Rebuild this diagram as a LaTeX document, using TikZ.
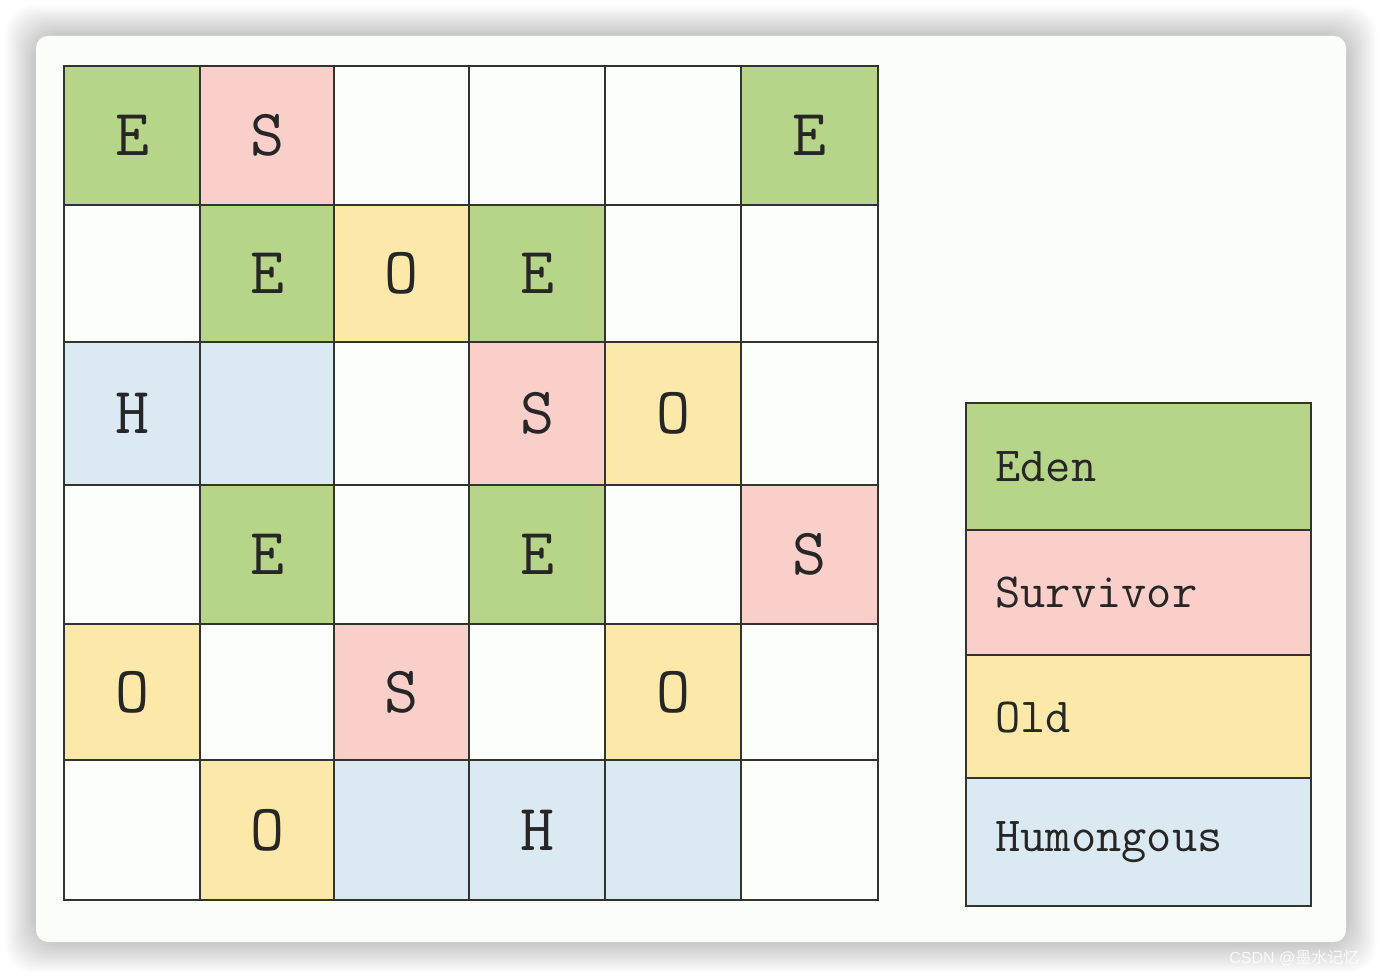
\documentclass[tikz,border=0pt]{standalone}
\usepackage{fontspec}
\newfontfamily\cjk{Noto Sans CJK SC}
\newfontfamily\wmfont{Liberation Sans}
\usetikzlibrary{fit}
\definecolor{eden}{RGB}{182,213,137}
\definecolor{surv}{RGB}{250,206,201}
\definecolor{old}{RGB}{252,233,169}
\definecolor{hum}{RGB}{219,233,243}
\definecolor{blank}{RGB}{252,254,250}
\definecolor{card}{RGB}{250,253,248}
\definecolor{gridline}{RGB}{50,53,47}
\tikzset{
  cell/.style={draw=gridline, line width=1.4pt, inner sep=0pt},
  celltext/.style={inner sep=0pt, font=\ttfamily\fontsize{33}{33}\selectfont, text=black!85},
  legend/.style={draw=gridline, line width=1.4pt, inner sep=0pt},
  legendtext/.style={anchor=west, inner sep=0pt, font=\ttfamily\fontsize{24.5}{24.5}\selectfont, text=black!85},
}
\begin{document}
\begin{tikzpicture}[x=0.5pt,y=-0.5pt]
\useasboundingbox (0,0) rectangle (1382,978);
\fill[white] (0,0) rectangle (1382,978);
% soft shadow
\foreach \k in {1,...,28}{
  \fill[black, opacity=0.0065, rounded corners=14pt] (36-1.1*\k,36-1.1*\k) rectangle (1346+1.1*\k,942+1.1*\k);
}
\fill[card, rounded corners=6pt] (36,36) rectangle (1346,942);
\def\xs{{64,200,334,469,605,741,878}}
\def\ys{{66,205,342,485,624,760,900}}
\foreach \r/\c/\col/\t in {
 0/0/eden/E, 0/1/surv/S, 0/2/blank/, 0/3/blank/, 0/4/blank/, 0/5/eden/E,
 1/0/blank/, 1/1/eden/E, 1/2/old/O, 1/3/eden/E, 1/4/blank/, 1/5/blank/,
 2/0/hum/H, 2/1/hum/, 2/2/blank/, 2/3/surv/S, 2/4/old/O, 2/5/blank/,
 3/0/blank/, 3/1/eden/E, 3/2/blank/, 3/3/eden/E, 3/4/blank/, 3/5/surv/S,
 4/0/old/O, 4/1/blank/, 4/2/surv/S, 4/3/blank/, 4/4/old/O, 4/5/blank/,
 5/0/blank/, 5/1/old/O, 5/2/hum/, 5/3/hum/H, 5/4/hum/, 5/5/blank/}{
  \pgfmathsetmacro\xa{\xs[\c]}
  \pgfmathsetmacro\xb{\xs[\c+1]}
  \pgfmathsetmacro\ya{\ys[\r]}
  \pgfmathsetmacro\yb{\ys[\r+1]}
  \node[cell, fill=\col, fit={(\xa,\ya)(\xb,\yb)}] (c\r\c) {};
  \node[celltext] (t\r\c) at (c\r\c.center) {\t};
}
% legend
\node[legend, fill=eden, fit={(966,403)(1311,530)}] (leden) {};
\node[legend, fill=surv, fit={(966,530)(1311,655)}] (lsurv) {};
\node[legend, fill=old,  fit={(966,655)(1311,778)}] (lold) {};
\node[legend, fill=hum,  fit={(966,778)(1311,906)}] (lhum) {};
\node[legendtext] (teden) at (995,467) {Eden};
\node[legendtext] (tsurv) at (995,593) {Survivor};
\node[legendtext] (told)  at (995,718) {Old};
\node[legendtext] (thum)  at (995,842) {Humongous};
\node[anchor=west, inner sep=0pt, text=white, opacity=0.8, font=\fontsize{8}{8}\selectfont] (wm) at (1229,958) {\wmfont CSDN @\cjk 墨水记忆};
\end{tikzpicture}
\end{document}
